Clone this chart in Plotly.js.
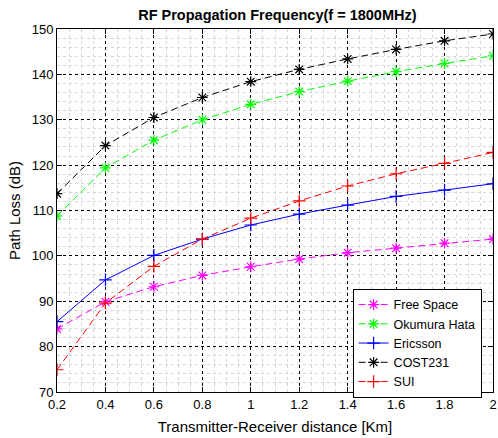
<!DOCTYPE html>
<html>
<head>
<meta charset="utf-8">
<script src="https://cdn.plot.ly/plotly-3.0.1.min.js"></script>
<style>html,body{margin:0;padding:0;background:#fff;}#chart{width:498px;height:438px;}</style>
</head>
<body>
<div id="chart"></div>
<script>
// Distance between transmitter and receiver (km)
const distanceKm = [0.2, 0.4, 0.6, 0.8, 1.0, 1.2, 1.4, 1.6, 1.8, 2.0];

// Path loss (dB) per propagation model at f = 1800 MHz
const freeSpace   = [83.9, 89.9, 93.2, 95.7, 97.6, 99.3, 100.7, 101.7, 102.8, 103.7];
const okumuraHata = [108.8, 119.4, 125.5, 130.0, 133.4, 136.2, 138.5, 140.6, 142.4, 144.1];
const ericsson    = [85.5, 94.7, 100.1, 103.7, 106.8, 109.2, 111.2, 113.1, 114.5, 115.9];
const cost231     = [113.7, 124.3, 130.5, 134.9, 138.4, 141.1, 143.4, 145.5, 147.4, 148.9];
const sui         = [74.9, 89.6, 97.7, 103.7, 108.3, 112.1, 115.4, 118.1, 120.4, 122.8];

const seriesNames = ['Free Space', 'Okumura Hata', 'Ericsson', 'COST231', 'SUI'];
const xTickVals = [0.2, 0.4, 0.6, 0.8, 1, 1.2, 1.4, 1.6, 1.8, 2];
const xTickText = ['0.2', '0.4', '0.6', '0.8', '1', '1.2', '1.4', '1.6', '1.8', '2'];
const yTickVals = [70, 80, 90, 100, 110, 120, 130, 140, 150];

const dashed = '7px,4px';

function model(name, y, color, symbol, dash) {
  return {
    x: distanceKm, y: y, name: name, type: 'scatter', mode: 'lines+markers',
    line: {color: color, width: 1, dash: dash},
    marker: {symbol: symbol, size: 9, color: color, line: {color: color, width: 1.2}}
  };
}

const traces = [
  model(seriesNames[0], freeSpace, '#ff00ff', 'asterisk-open', dashed),
  model(seriesNames[1], okumuraHata, '#00ff00', 'asterisk-open', dashed),
  model(seriesNames[2], ericsson, '#0000ff', 'cross-thin-open', 'solid'),
  model(seriesNames[3], cost231, '#000000', 'asterisk-open', dashed),
  model(seriesNames[4], sui, '#ff0000', 'cross-thin-open', dashed)
];

const axisCommon = {
  showline: true, linecolor: '#000', linewidth: 1, mirror: 'allticks',
  ticks: 'inside', ticklen: 5, tickcolor: '#000',
  showgrid: true, gridcolor: '#000', griddash: 'dot', gridwidth: 1,
  zeroline: false, ticklabeloverflow: 'allow',
  tickfont: {family: 'Liberation Sans, Arial, sans-serif', size: 13, color: '#000'}
};

const minorGrid = {showgrid: true, gridcolor: '#d6d6d6', griddash: 'dot', gridwidth: 1};

const layout = {
  width: 498, height: 438,
  margin: {l: 57, r: 5, t: 29, b: 46},
  paper_bgcolor: '#fff', plot_bgcolor: '#fff',
  font: {family: 'Liberation Sans, Arial, sans-serif', color: '#000'},
  title: {
    text: '<b>RF Propagation Frequency(f = 1800MHz)</b>',
    font: {size: 14.5, color: '#000'},
    x: 0.557, xanchor: 'center', y: 0.966, yanchor: 'middle', yref: 'container'
  },
  xaxis: Object.assign({}, axisCommon, {
    range: [0.19999, 2.00001], tickvals: xTickVals, ticktext: xTickText,
    minor: Object.assign({dtick: 0.05}, minorGrid),
    title: {text: 'Transmitter-Receiver distance [Km]', font: {size: 15}, standoff: 10}
  }),
  yaxis: Object.assign({}, axisCommon, {
    range: [70, 150], tickvals: yTickVals,
    minor: Object.assign({dtick: 2}, minorGrid),
    title: {text: 'Path Loss (dB)', font: {size: 15}, standoff: 7}
  }),
  showlegend: true,
  legend: {
    x: 0.678, y: 0.284, xanchor: 'left', yanchor: 'top',
    bgcolor: '#fff', bordercolor: '#000', borderwidth: 1,
    font: {size: 12.5, color: '#000'}, tracegroupgap: 0
  }
};

Plotly.newPlot('chart', traces, layout, {displayModeBar: false, staticPlot: true});
</script>
</body>
</html>
